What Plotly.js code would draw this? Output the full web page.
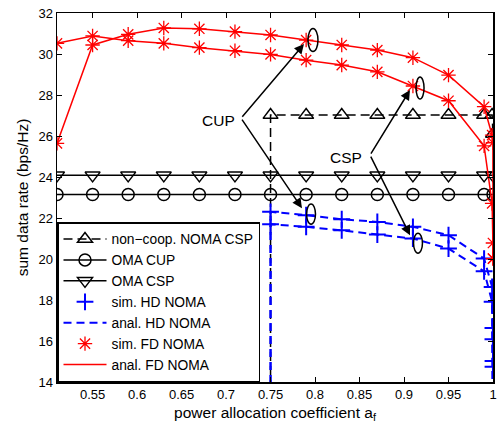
<!DOCTYPE html>
<html>
<head>
<meta charset="utf-8">
<script src="https://cdn.plot.ly/plotly-3.0.1.min.js"></script>
<style>html,body{margin:0;padding:0;background:#fff;}#chart{width:497px;height:423px;}</style>
</head>
<body>
<div id="chart"></div>
<script>
// ---- data ----
const xOMA = [0.51,0.55,0.59,0.63,0.67,0.71,0.75,0.79,0.83,0.87,0.91,0.95,0.99,1];
const omaCUP = [23.15,23.15,23.15,23.15,23.15,23.15,23.15,23.15,23.15,23.15,23.15,23.15,23.15,23.15];
const omaCSP = [24.08,24.08,24.08,24.08,24.08,24.08,24.08,24.08,24.08,24.08,24.08,24.08,24.08,24.08];

const xNC = [0.75,0.75,0.79,0.83,0.87,0.91,0.95,0.99,0.999,1];
const ncCSP = [0,27.02,27.02,27.02,27.02,27.02,27.02,27.02,27.02,26.1];

const xHD = [0.75,0.79,0.83,0.87,0.91,0.95,0.99,0.999,0.9999,0.99999];
const hdCUP = [22.30,22.14,21.94,21.81,21.57,21.16,20.02,18.64,16.64,15.03];
const hdCSP = [21.70,21.57,21.40,21.19,21.00,20.51,19.40,17.92,16.08,14.75];
const xHDanal = [0.75,0.75,0.79,0.83,0.87,0.91,0.95,0.99,0.999,0.9999,0.99999,1];
const hdCUPanal = [0,22.30,22.14,21.94,21.81,21.57,21.16,20.02,18.64,16.64,15.03,0];
const hdCSPanal = [0,21.70,21.57,21.40,21.19,21.00,20.51,19.40,17.92,16.08,14.75,0];

const xFD = [0.51,0.55,0.59,0.63,0.67,0.71,0.75,0.79,0.83,0.87,0.91,0.95,0.99,0.999,0.9999,1];
const fdCUP = [25.64,30.44,30.96,31.27,31.23,31.09,30.93,30.68,30.44,30.19,29.82,28.97,27.43,26.04,25.67,20.02];
const fdCSP = [30.52,30.88,30.65,30.52,30.31,30.16,29.98,29.70,29.46,29.13,28.44,27.72,25.52,22.71,20.78,20.02];

const xTicks = [0.55,0.6,0.65,0.7,0.75,0.8,0.85,0.9,0.95,1];
const xTickText = ['0.55','0.6','0.65','0.7','0.75','0.8','0.85','0.9','0.95','1'];
const yTicks = [14,16,18,20,22,24,26,28,30,32];

// ---- traces ----
const blk = '#000000', red = '#ff0000', blue = '#0000ff';
const traces = [
  {x:xNC, y:ncCSP, mode:'lines+markers', name:'non\u2212coop. NOMA CSP', legendgroup:'nc',
   line:{color:blk,width:1.5,dash:'9px,5px'}, marker:{symbol:'triangle-up-open',size:13,color:blk,line:{width:1.5,color:blk}}},
  {x:xOMA, y:omaCUP, mode:'lines+markers', name:'OMA CUP', legendgroup:'omacup',
   line:{color:blk,width:1.5}, marker:{symbol:'circle-open',size:12,color:blk,line:{width:1.5,color:blk}}},
  {x:xOMA, y:omaCSP, mode:'lines+markers', name:'OMA CSP', legendgroup:'omacsp',
   line:{color:blk,width:1.5}, marker:{symbol:'triangle-down-open',size:13,color:blk,line:{width:1.5,color:blk}}},
  {x:xHD, y:hdCUP, mode:'markers', name:'sim. HD NOMA', legendgroup:'hds',
   marker:{symbol:'cross-thin-open',size:12,color:blue,line:{width:2,color:blue}}},
  {x:xHD, y:hdCSP, mode:'markers', name:'sim. HD NOMA', legendgroup:'hds', showlegend:false,
   marker:{symbol:'cross-thin-open',size:12,color:blue,line:{width:2,color:blue}}},
  {x:xHDanal, y:hdCUPanal, mode:'lines', name:'anal. HD NOMA', legendgroup:'hda',
   line:{color:blue,width:2,dash:'8px,5px'}},
  {x:xHDanal, y:hdCSPanal, mode:'lines', name:'anal. HD NOMA', legendgroup:'hda', showlegend:false,
   line:{color:blue,width:2,dash:'8px,5px'}},
  {x:xFD, y:fdCUP, mode:'markers', name:'sim. FD NOMA', legendgroup:'fds',
   marker:{symbol:'asterisk-open',size:12,color:red,line:{width:1.3,color:red}}},
  {x:xFD, y:fdCSP, mode:'markers', name:'sim. FD NOMA', legendgroup:'fds', showlegend:false,
   marker:{symbol:'asterisk-open',size:12,color:red,line:{width:1.3,color:red}}},
  {x:xFD, y:fdCUP, mode:'lines', name:'anal. FD NOMA', legendgroup:'fda',
   line:{color:red,width:1.5}},
  {x:xFD, y:fdCSP, mode:'lines', name:'anal. FD NOMA', legendgroup:'fda', showlegend:false,
   line:{color:red,width:1.5}}
];

function arrow(xt, yt, xv, yv){
  return {x:xt, y:yt, ax:xv, ay:yv, xref:'x', yref:'y', axref:'x', ayref:'y', text:'',
          showarrow:true, arrowhead:2, arrowsize:1.3, arrowwidth:1.5, arrowcolor:blk, standoff:0, startstandoff:0};
}
function ell(xc, yc, hw, hh){
  return {type:'circle', xref:'x', yref:'y', x0:xc-hw, x1:xc+hw, y0:yc-hh, y1:yc+hh,
          line:{color:blk,width:1.5}};
}

const layout = {
  width:497, height:423,
  margin:{l:57, r:4, t:13, b:41},
  paper_bgcolor:'#fff', plot_bgcolor:'#fff',
  font:{family:'"Liberation Sans", Arial, sans-serif', size:13, color:blk},
  showlegend:true,
  xaxis:{range:[0.51,1], tickvals:xTicks, ticktext:xTickText, ticks:'inside', ticklen:5, tickwidth:1,
         tickcolor:blk, showline:true, linecolor:blk, linewidth:1.5, mirror:'ticks', showgrid:false, zeroline:false,
         tickfont:{size:13}, title:{text:'power allocation coefficient a<sub>f</sub>', font:{size:15.5}, standoff:6}},
  yaxis:{range:[14,32], tickvals:yTicks, ticks:'inside', ticklen:5, tickwidth:1,
         tickcolor:blk, showline:true, linecolor:blk, linewidth:1.5, mirror:'ticks', showgrid:false, zeroline:false,
         tickfont:{size:13}, title:{text:'sum data rate (bps/Hz)', font:{size:15.5}, standoff:6}},
  legend:{x:0, y:0, xanchor:'left', yanchor:'bottom', bgcolor:'#fff', bordercolor:blk, borderwidth:1.5,
          font:{size:13.8}, tracegroupgap:0, itemwidth:43},
  annotations:[
    {x:0.692, y:26.78, xref:'x', yref:'y', text:'CUP', showarrow:false, font:{size:15.5}},
    {x:0.835, y:24.97, xref:'x', yref:'y', text:'CSP', showarrow:false, font:{size:15.5}},
    arrow(0.7876, 30.49, 0.7168, 26.87),
    arrow(0.7853, 22.48, 0.7168, 26.87),
    arrow(0.9067, 28.24, 0.8618, 25.07),
    arrow(0.9067, 21.16, 0.8618, 25.07)
  ],
  shapes:[
    ell(0.7977, 30.68, 0.0056, 0.56),
    ell(0.7955, 22.19, 0.0050, 0.49),
    ell(0.9180, 28.34, 0.0045, 0.54),
    ell(0.9157, 20.77, 0.0050, 0.49)
  ]
};

Plotly.newPlot('chart', traces, layout, {displayModeBar:false, staticPlot:true});
</script>
</body>
</html>
